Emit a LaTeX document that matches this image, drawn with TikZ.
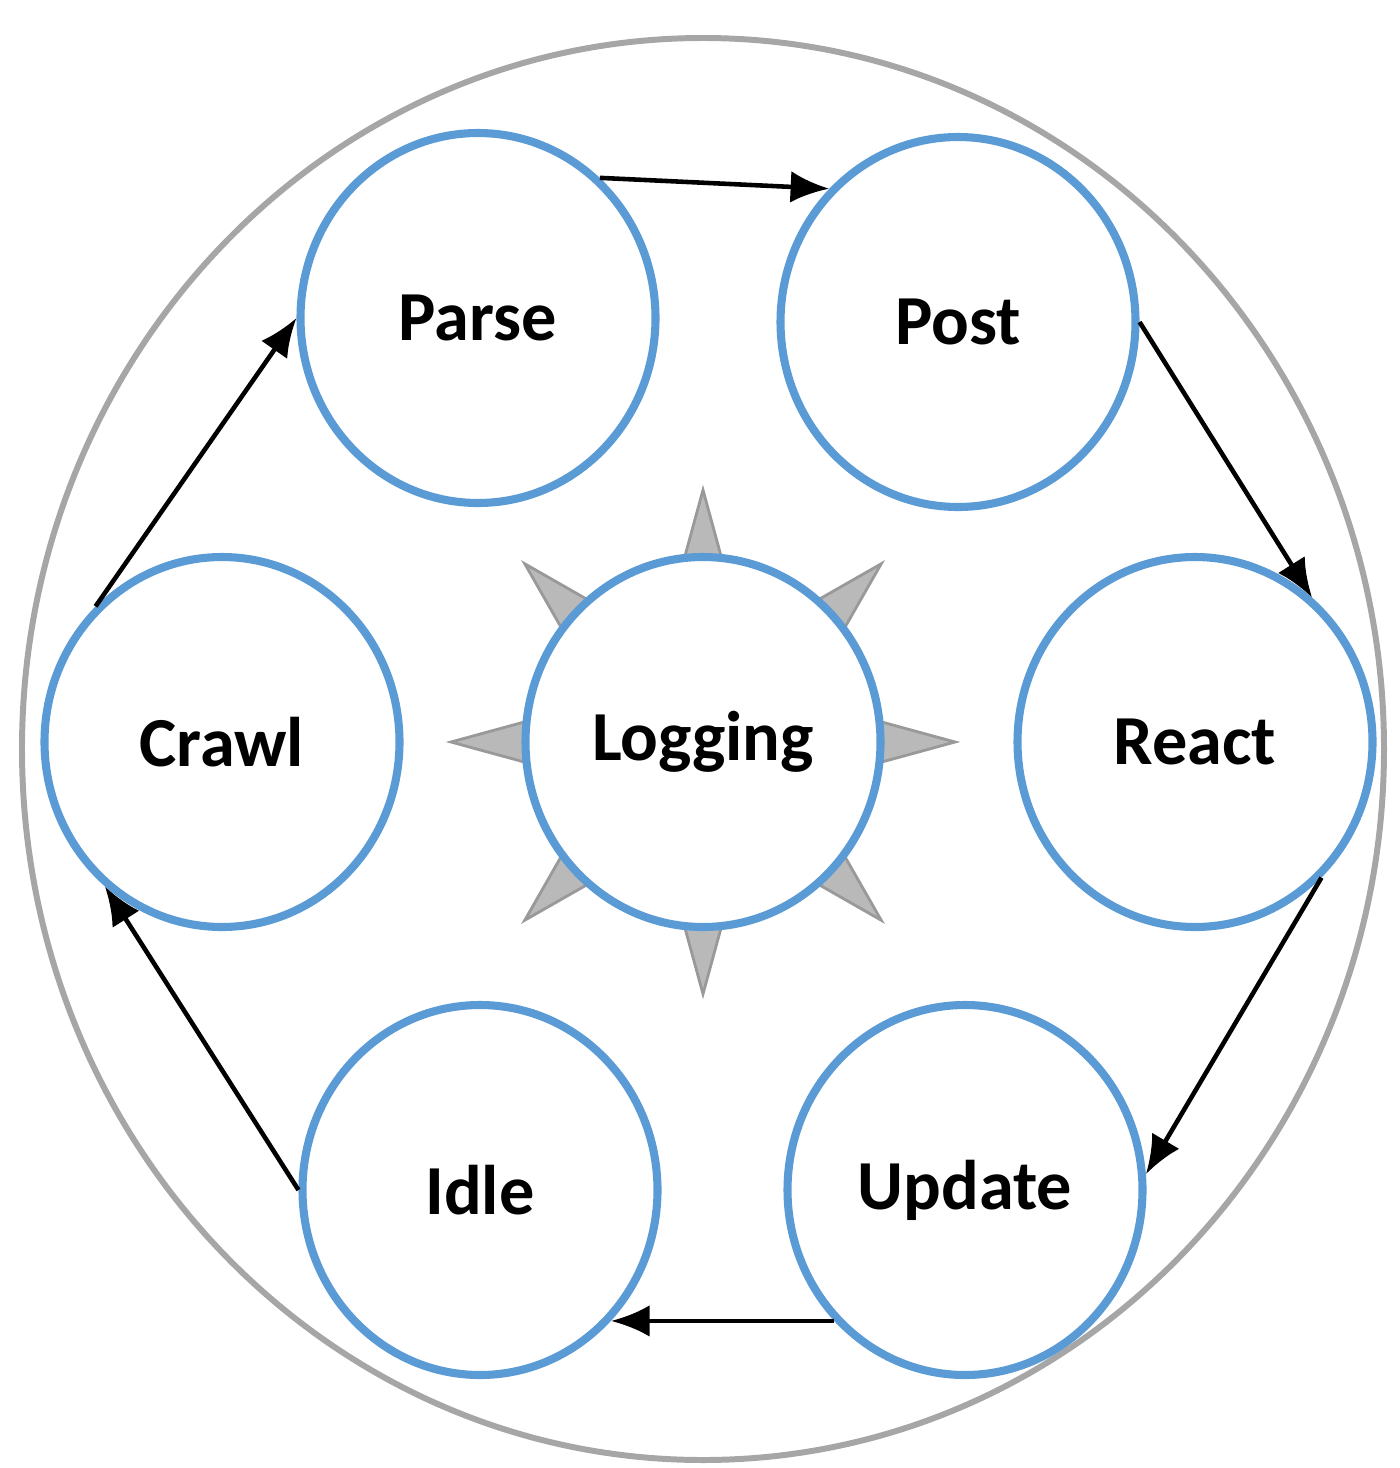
\documentclass[tikz,border=0pt]{standalone}
\usepackage{fontspec}
\setmainfont{Carlito}
\usepackage{tikz}
\usetikzlibrary{arrows.meta,calc,shapes.geometric}
\definecolor{stateblue}{HTML}{5B9BD5}
\definecolor{ringgray}{HTML}{A6A6A6}
\newcommand{\stname}[1]{\textbf{#1}}

\begin{document}
\begin{tikzpicture}[x=0.1mm,y=-0.1mm,
    state/.style={ellipse,draw=stateblue,line width=2.3pt,fill=white,
      minimum width=3.55cm,minimum height=3.7cm,inner sep=0pt,
      font=\fontsize{20}{24}\selectfont},
    flow/.style={-{Latex[length=11pt,width=9pt]},line width=1.3pt,black}]
    \useasboundingbox (0,0) rectangle (1400,1468);
    \draw [ringgray,line width=1.7pt] (703,749) ellipse [x radius=681, y radius=711];
    % spikes round the logging node
    \foreach \a in {0,45,...,315}
      \filldraw [fill=gray!55,draw=gray!80,line width=0.8pt]
        ($(703,742)+(\a-11:150)$) -- ($(703,742)+(\a:252)$) -- ($(703,742)+(\a+11:150)$) -- cycle;
    \node [state] (parse)  at (478,318)  {\stname{Parse}};
    \node [state] (post)   at (958,322)  {\stname{Post}};
    \node [state] (crawl)  at (222,742)  {\stname{Crawl}};
    \node [state] (log)    at (703,742)  {\stname{Logging}};
    \node [state] (react)  at (1195,742) {\stname{React}};
    \node [state] (idle)   at (480,1190) {\stname{Idle}};
    \node [state] (update) at (965,1190) {\stname{Update}};
    \draw [flow] (parse.49)   -- (post.134);
    \draw [flow] (post.0)     -- (react.51);
    \draw [flow] (react.-47)  -- (update.5);
    \draw [flow] (update.225) -- (idle.-45);
    \draw [flow] (idle.180)   -- (crawl.231);
    \draw [flow] (crawl.133)  -- (parse.180);
\end{tikzpicture}
\end{document}
